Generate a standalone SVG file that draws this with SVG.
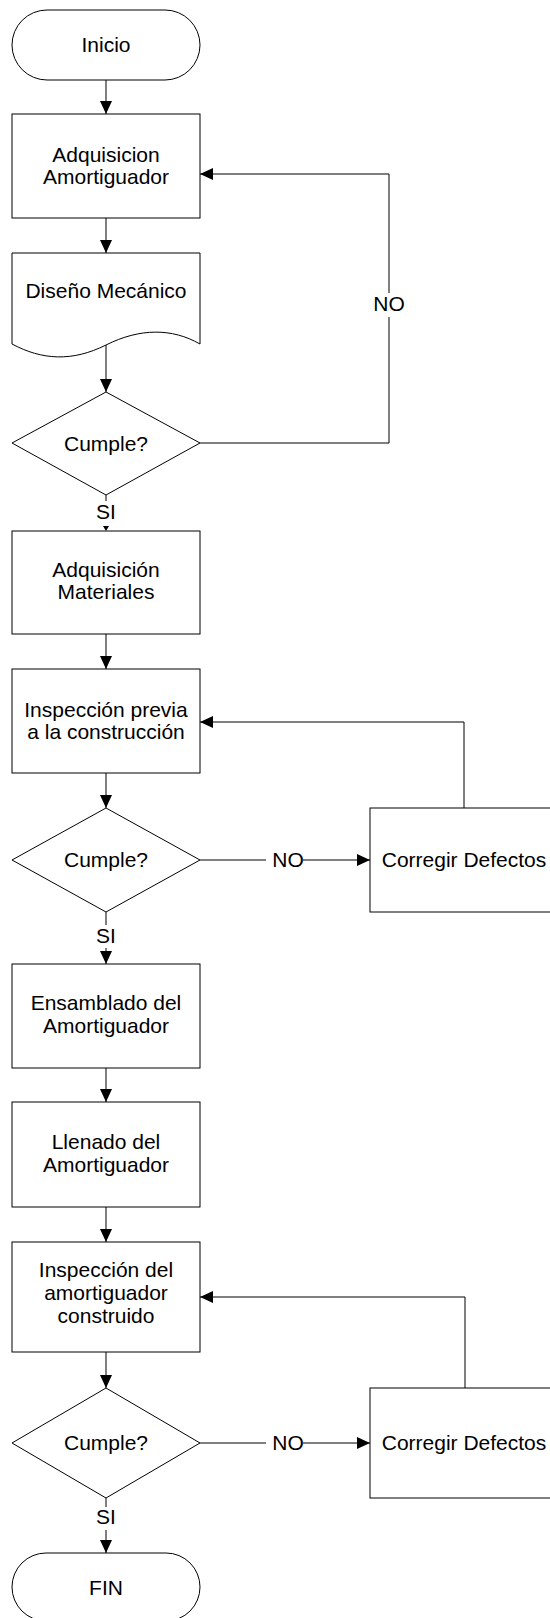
<svg xmlns="http://www.w3.org/2000/svg" width="550" height="1618" viewBox="0 0 550 1618">
<style>
.s{fill:#fff;stroke:#000;stroke-width:1}
.c{fill:none;stroke:#000;stroke-width:1}
text{font-family:"Liberation Sans",Arial,sans-serif;font-size:21px;fill:#000;text-anchor:middle}
</style>
<defs>
<marker id="ah" markerUnits="userSpaceOnUse" markerWidth="14" markerHeight="12" refX="13" refY="6" orient="auto">
<path d="M0,0 L13,6 L0,12 Z" fill="#000"/>
</marker>
</defs>
<rect width="550" height="1618" fill="#fff"/>
<g id="connectors">
<path class="c" d="M106,80 V114" marker-end="url(#ah)"/>
<path class="c" d="M106,218 V253" marker-end="url(#ah)"/>
<path class="c" d="M106,345 V392" marker-end="url(#ah)"/>
<path class="c" d="M200,443 H389 V317"/>
<path class="c" d="M389,293 V174 H200" marker-end="url(#ah)"/>
<text x="389" y="311">NO</text>
<path class="c" d="M106,495 V501"/>
<polygon points="103,526 109,526 106,531" fill="#000"/>
<text x="106" y="519">SI</text>
<path class="c" d="M106,634 V669" marker-end="url(#ah)"/>
<path class="c" d="M106,773 V808" marker-end="url(#ah)"/>
<path class="c" d="M200,860 H266"/>
<path class="c" d="M303,860 H370" marker-end="url(#ah)"/>
<text x="288" y="867">NO</text>
<path class="c" d="M464,808 V722 H200" marker-end="url(#ah)"/>
<path class="c" d="M106,912 V925"/>
<path class="c" d="M106,948 V964" marker-end="url(#ah)"/>
<text x="106" y="943">SI</text>
<path class="c" d="M106,1068 V1102" marker-end="url(#ah)"/>
<path class="c" d="M106,1207 V1242" marker-end="url(#ah)"/>
<path class="c" d="M106,1352 V1388" marker-end="url(#ah)"/>
<path class="c" d="M200,1443 H266"/>
<path class="c" d="M303,1443 H370" marker-end="url(#ah)"/>
<text x="288" y="1450">NO</text>
<path class="c" d="M465,1388 V1297 H200" marker-end="url(#ah)"/>
<path class="c" d="M106,1498 V1507"/>
<path class="c" d="M106,1530 V1553" marker-end="url(#ah)"/>
<text x="106" y="1524">SI</text>
</g>
<g id="inicio">
<rect class="s" x="12" y="10" width="188" height="70" rx="35" ry="35"/>
<text x="106" y="52">Inicio</text>
</g>
<g id="adquisicion-amortiguador">
<rect class="s" x="12" y="114" width="188" height="104"/>
<text x="106" y="162">Adquisicion</text>
<text x="106" y="184">Amortiguador</text>
</g>
<g id="diseno-mecanico">
<path class="s" d="M12,253 H200 V344 C172,328 140,328 106,345 C72,362 42,360 12,344 Z"/>
<text x="106" y="298">Diseño Mecánico</text>
</g>
<g id="cumple-1">
<polygon class="s" points="106,392 200,443 106,495 12,443"/>
<text x="106" y="451">Cumple?</text>
</g>
<g id="adquisicion-materiales">
<rect class="s" x="12" y="531" width="188" height="103"/>
<text x="106" y="577">Adquisición</text>
<text x="106" y="599">Materiales</text>
</g>
<g id="inspeccion-previa">
<rect class="s" x="12" y="669" width="188" height="104"/>
<text x="106" y="717">Inspección previa</text>
<text x="106" y="739">a la construcción</text>
</g>
<g id="cumple-2">
<polygon class="s" points="106,808 200,860 106,912 12,860"/>
<text x="106" y="867">Cumple?</text>
</g>
<g id="corregir-1">
<rect class="s" x="370" y="808" width="188" height="104"/>
<text x="464" y="867">Corregir Defectos</text>
</g>
<g id="ensamblado">
<rect class="s" x="12" y="964" width="188" height="104"/>
<text x="106" y="1010">Ensamblado del</text>
<text x="106" y="1033">Amortiguador</text>
</g>
<g id="llenado">
<rect class="s" x="12" y="1102" width="188" height="105"/>
<text x="106" y="1149">Llenado del</text>
<text x="106" y="1172">Amortiguador</text>
</g>
<g id="inspeccion-construido">
<rect class="s" x="12" y="1242" width="188" height="110"/>
<text x="106" y="1277">Inspección del</text>
<text x="106" y="1300">amortiguador</text>
<text x="106" y="1323">construido</text>
</g>
<g id="cumple-3">
<polygon class="s" points="106,1388 200,1443 106,1498 12,1443"/>
<text x="106" y="1450">Cumple?</text>
</g>
<g id="corregir-2">
<rect class="s" x="370" y="1388" width="188" height="110"/>
<text x="464" y="1450">Corregir Defectos</text>
</g>
<g id="fin">
<rect class="s" x="12" y="1553" width="188" height="68" rx="34" ry="34"/>
<text x="106" y="1595">FIN</text>
</g>
</svg>
